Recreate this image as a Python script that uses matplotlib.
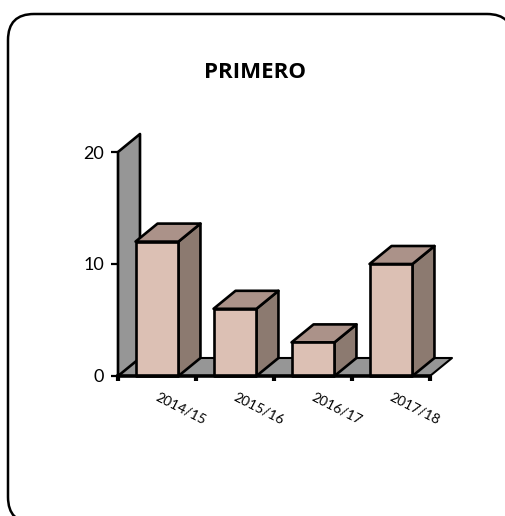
import matplotlib
matplotlib.use('Agg')
import matplotlib.pyplot as plt
from matplotlib.patches import Polygon, FancyBboxPatch

categories = ['2014/15', '2015/16', '2016/17', '2017/18']
values = [12, 6, 3, 10]
y_ticks = [0, 10, 20]

W, H = 505, 516
plt.rcParams['font.family'] = ['Lato', 'DejaVu Sans']

fig = plt.figure(figsize=(W / 100, H / 100), dpi=100)

# cadre arrondi, en pixels
frame = FancyBboxPatch((8, H - 523), 505, 509, boxstyle='round,pad=0,rounding_size=26',
                       transform=None, fc='white', ec='black', lw=1.8, zorder=-1)
fig.add_artist(frame)

ax = fig.add_axes([118 / W, (H - 376) / H, 312 / W, 224 / H])
ax.patch.set_visible(False)
ax.set_xlim(-0.5, 3.5)
ax.set_ylim(0, 20)
for s in ['top', 'right', 'left']:
    ax.spines[s].set_visible(False)
ax.spines['bottom'].set_linewidth(2.6)
ax.spines['bottom'].set_zorder(5)

# profondeur en unités de données
dx = 22 / 78
dy = 18 / 11.2
half = 0.275
wall = '#969696'
front = '#dcc0b4'
top = '#ab9289'
side = '#8c7a70'


def poly(pts, color, z=2):
    ax.add_patch(Polygon(pts, closed=True, fc=color, ec='black', lw=1.9,
                         joinstyle='round', clip_on=False, zorder=z))


# mur et sol
poly([(-0.5, 0), (-0.5 + dx, dy), (-0.5 + dx, 20 + dy), (-0.5, 20)], wall)
ax.add_patch(Polygon([(-0.5, 0), (-0.5 + dx, dy), (3.5 + dx, dy), (3.5, 0)], closed=True,
                     fc=wall, ec='none', clip_on=False, zorder=1))
ax.plot([-0.5 + dx, 3.5 + dx, 3.5], [dy, dy, 0], color='black', lw=1.5, clip_on=False, zorder=1)

for i, v in enumerate(values):
    l = i - half
    r = i + half
    poly([(r, 0), (r + dx, dy), (r + dx, v + dy), (r, v)], side, 3)
    poly([(l, v), (l + dx, v + dy), (r + dx, v + dy), (r, v)], top, 3)
    poly([(l, 0), (r, 0), (r, v), (l, v)], front, 4)
    ax.annotate(categories[i], (i, 0), xytext=(24 * 0.72, -32.5 * 0.72), textcoords='offset points',
                rotation=-27, ha='center', va='center', fontsize=10, rotation_mode='anchor',
                annotation_clip=False)

ax.set_yticks(y_ticks)
ax.set_xticks([i - 0.5 for i in range(5)])
ax.set_xticklabels([])
ax.tick_params(axis='y', length=5, width=1.6, labelsize=13, pad=5)
ax.tick_params(axis='x', length=3.5, width=3)

fig.text(254.5 / W, 1 - 72 / H, 'PRIMERO', ha='center', va='center', fontsize=16,
         fontweight='bold', family=['Open Sans', 'DejaVu Sans'])

fig.savefig('out.png', dpi=100)
